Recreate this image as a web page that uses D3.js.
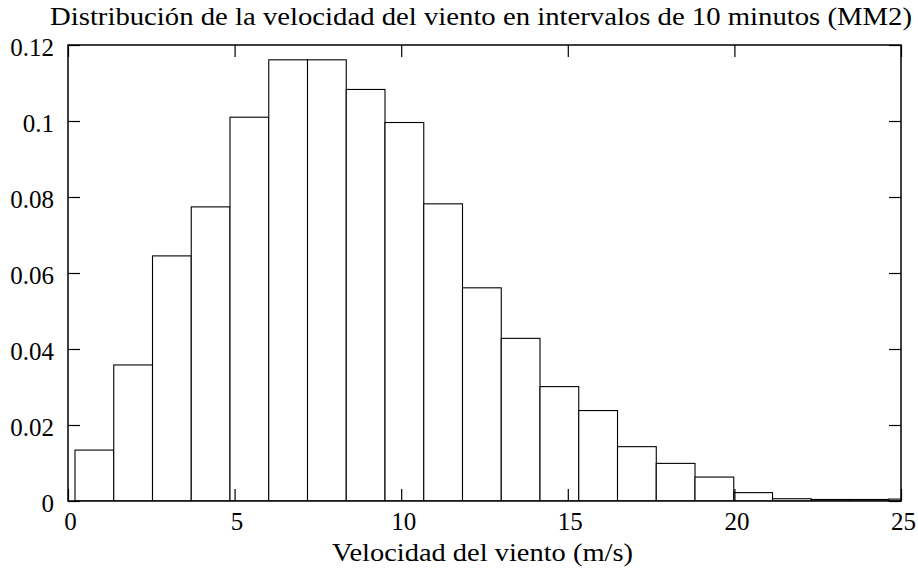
<!DOCTYPE html>
<html>
<head>
<meta charset="utf-8">
<script src="https://cdn.jsdelivr.net/npm/d3@7"></script>
<style>
  html, body { margin: 0; padding: 0; background: #fff; }
  text { font-family: "Liberation Serif", "DejaVu Serif", serif; fill: #000; }
</style>
</head>
<body>
<svg id="chart" width="918" height="568"></svg>
<script>
// Data
const binStart = 0.21;
const binWidth = 1.163;
const frequencies = [0.0134, 0.0358, 0.0645, 0.0774, 0.1010, 0.1161, 0.1161, 0.1083, 0.0996, 0.0782,
                     0.0561, 0.0428, 0.0301, 0.0238, 0.0143, 0.0099, 0.0063, 0.0022, 0.0006, 0.0004,
                     0.0004, 0.0005];
const xTicks = [0, 5, 10, 15, 20, 25];
const yTicks = [0, 0.02, 0.04, 0.06, 0.08, 0.1, 0.12];
const titleText = "Distribución de la velocidad del viento en intervalos de 10 minutos (MM2)";
const xLabelText = "Velocidad del viento (m/s)";

const bins = frequencies.map((v, i) => ({ x0: binStart + i * binWidth, x1: binStart + (i + 1) * binWidth, v }));

const margin = { left: 68, right: 17, top: 45, bottom: 67 };
const W = 918, H = 568;
const svg = d3.select("#chart");

const x = d3.scaleLinear().domain([0, 25]).range([margin.left, W - margin.right]);
const y = d3.scaleLinear().domain([0, 0.12]).range([H - margin.bottom, margin.top]);

const defs = svg.append("defs");
defs.append("clipPath").attr("id", "clip")
  .append("rect").attr("x", x(0)).attr("y", y(0.12))
  .attr("width", x(25) - x(0)).attr("height", y(0) - y(0.12));

// Bars
svg.append("g").attr("clip-path", "url(#clip)")
  .selectAll("rect").data(bins).join("rect")
  .attr("x", d => x(d.x0))
  .attr("y", d => y(d.v))
  .attr("width", d => x(d.x1) - x(d.x0))
  .attr("height", d => y(0) - y(d.v))
  .attr("fill", "#fff")
  .attr("stroke", "#000")
  .attr("stroke-width", 1.1);

const tickLen = 12;
const fs = 25;

// Bottom axis
const axB = svg.append("g").attr("transform", `translate(0,${y(0)})`)
  .call(d3.axisBottom(x).tickValues(xTicks).tickSizeInner(-tickLen).tickSizeOuter(0).tickFormat(d3.format("d")));
// Top axis
const axT = svg.append("g").attr("transform", `translate(0,${y(0.12)})`)
  .call(d3.axisTop(x).tickValues(xTicks).tickSizeInner(-tickLen).tickSizeOuter(0).tickFormat(""));
// Left axis
const axL = svg.append("g").attr("transform", `translate(${x(0)},0)`)
  .call(d3.axisLeft(y).tickValues(yTicks).tickSizeInner(-tickLen).tickSizeOuter(0).tickFormat(d => d === 0 ? "0" : String(+d.toFixed(2))));
// Right axis
const axR = svg.append("g").attr("transform", `translate(${x(25)},0)`)
  .call(d3.axisRight(y).tickValues(yTicks).tickSizeInner(-tickLen).tickSizeOuter(0).tickFormat(""));

[axB, axT, axL, axR].forEach(g => {
  g.select(".domain").remove();
  g.selectAll(".tick line").attr("stroke", "#000").attr("stroke-width", 1.2);
  g.selectAll(".tick text").style("font-family", '"Liberation Serif", serif').style("font-size", fs + "px").attr("fill", "#000");
});
axB.selectAll(".tick text").attr("dy", 0).attr("y", 28.5).attr("dx", 2);
axL.selectAll(".tick text").attr("x", -14).attr("dy", 0).attr("y", 10);

// Frame
svg.append("rect")
  .attr("x", x(0)).attr("y", y(0.12))
  .attr("width", x(25) - x(0)).attr("height", y(0) - y(0.12))
  .attr("fill", "none").attr("stroke", "#000").attr("stroke-width", 1.5);

// Title
svg.append("text")
  .attr("x", 481).attr("y", 25)
  .attr("text-anchor", "middle")
  .attr("textLength", 862)
  .attr("lengthAdjust", "spacingAndGlyphs")
  .style("font-size", "25px")
  .text(titleText);

// X label
svg.append("text")
  .attr("x", 482.5).attr("y", 561)
  .attr("text-anchor", "middle")
  .attr("textLength", 301)
  .attr("lengthAdjust", "spacingAndGlyphs")
  .style("font-size", "25px")
  .text(xLabelText);
</script>
</body>
</html>
